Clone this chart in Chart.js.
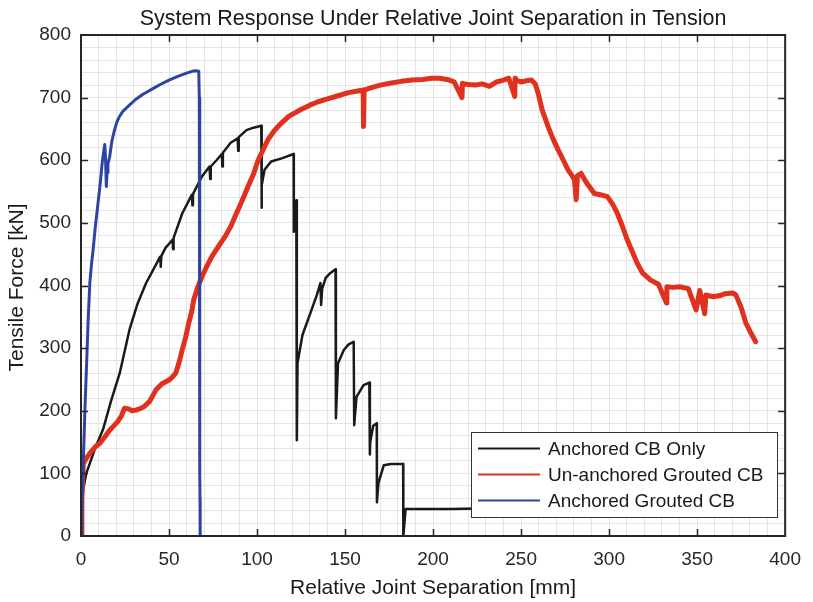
<!DOCTYPE html>
<html>
<head>
<meta charset="utf-8">
<script src="https://cdn.jsdelivr.net/npm/chart.js@4/dist/chart.umd.min.js"></script>
<style>
  html,body{margin:0;padding:0;background:#fff;}
  #wrap{width:813px;height:602px;position:relative;}
</style>
</head>
<body>
<div id="wrap"><canvas id="c" width="813" height="602"></canvas></div>
<script>
// Anchored CB Only
const blackX = [0,0.3,3,8,12.5,17,22,27.5,32,37,41,45,45.3,45.6,48,52,52.3,52.6,57.5,63,63.3,63.6,68.7,73,73.4,73.7,77,80,80.3,80.6,85,89,89.3,89.6,94,98,102.4,102.5,102.8,104.3,108,114,120.8,120.9,121.5,122.3,122.5,122.7,123,125.8,130.3,134,136,136.4,137,139,141.7,144.6,144.8,146,149.3,152,154.9,155.2,156.5,160.5,163.8,164.1,164.3,166,168,168.1,169,172,176,183,183.1,184.4,195,210,225,240];
const blackY = [0,60,100,140,170,215,260,329,370,404,425,446,430,447,460,473,458,476,515,545,528,546,574,590,570,590,600,610,590,612,628,635,615,637,648,652,655,524,560,585,598,603,610,486,500,536,500,153,276,321,356,385,404,369,395,412,420,426,188,276,297,306,310,177,222,241,245,130,150,176,180,54,85,113,115,115,0,43,43,43,44,45];

// Un-anchored Grouted CB
const redX = [0,0.5,1.3,3,5,8,10.7,13.5,16.3,19,21,23,24.7,27,29,31.3,34,36,39,42.5,46,50,52,53.8,55.5,57.5,59.5,61.2,63,64,66,68.7,71,74.3,78,81.8,85,87.5,91,94.9,98,100.6,103,106.2,110,113.7,118,124.9,130,134.3,140,146,152,158,160.3,160.5,160.8,165,170,175.5,182,188,194.2,199,203.6,208,212,216.4,216.7,217,220,224,227.9,232,236,240,243,246.4,246.6,246.8,250,253,256,258,259.7,262,265.3,268,271,274,276.6,279,280.3,281.3,282,284.1,287,291.6,295,299,302,304.7,307.5,310.3,313,315.9,319,323.4,328,332.6,332.8,336,340.2,345,349.4,351.5,354.3,355,359,363,366,370.2,372,375,377.7,380,383.3];
const redY = [0,60,116,124,132,142,148,158,169,177,183,192,204,203,200,201,204,207,215,233,243,249,254,260,275,297,318,340,360,377,395,414,428,446,462,478,494,510,532,558,578,600,614,633,648,659,670,681,688,693,698,703,708,711,712,654,712,716,720,723,726,728,729,731,731,729,725,700,723,722,721,720,722,718,725,728,731,702,731,728,725,727,728,722,707,680,654,635,617,600,585,575,569,537,575,579,565,547,545,542,530,515,495,473,455,436,420,409,402,372,398,397,398,395,361,392,355,385,382,384,387,388,385,365,340,327,310];

// Anchored Grouted CB
const blueX = [0,0.4,1.3,2.2,3.2,4,5,6,7,8,8.8,10,11,12,12.8,13.5,13.9,14.4,14.8,15.3,16.3,17.5,19.1,20.5,21.9,24,27.5,31,35,40.6,45,50,55,60,63.1,65,66.9,67.2,67.4,67.5,67.6,67.7];
const blueY = [0,40,116,200,276,340,404,435,460,490,510,540,565,595,612,625,605,558,580,594,606,630,649,662,670,679,688,697,705,714,721,728,734,739,742,743,742,700,300,100,60,0];

const seriesNames = ['Anchored CB Only','Un-anchored Grouted CB','Anchored Grouted CB'];
const seriesColors = ['#1a1a1a','#e0301e','#2f44a2'];

const titleText = 'System Response Under Relative Joint Separation in Tension';
const xTitle = 'Relative Joint Separation [mm]';
const yTitle = 'Tensile Force [kN]';

const FONT = '"Liberation Sans", Arial, sans-serif';
const ink = '#262626';

function pts(xs, ys){ return xs.map((x,i)=>({x, y: ys[i]})); }

const framePlugin = {
  id: 'frame',
  afterDraw(chart){
    const {ctx, chartArea:a, scales:{x, y}} = chart;
    ctx.save();
    // inner ticks on all four sides
    ctx.strokeStyle = ink; ctx.lineWidth = 1.5;
    ctx.beginPath();
    for (let v = 50; v < 400; v += 50){
      const px = Math.round(x.getPixelForValue(v)) + 0.5;
      ctx.moveTo(px, a.bottom); ctx.lineTo(px, a.bottom - 7);
      ctx.moveTo(px, a.top); ctx.lineTo(px, a.top + 7);
    }
    for (let v = 100; v < 800; v += 100){
      const py = Math.round(y.getPixelForValue(v)) + 0.5;
      ctx.moveTo(a.left, py); ctx.lineTo(a.left + 7, py);
      ctx.moveTo(a.right, py); ctx.lineTo(a.right - 7, py);
    }
    ctx.stroke();
    // box
    ctx.lineWidth = 2;
    ctx.strokeRect(a.left, a.top, a.right - a.left, a.bottom - a.top);

    // titles
    ctx.fillStyle = '#1a1a1a';
    ctx.textAlign = 'center'; ctx.textBaseline = 'middle';
    ctx.font = '21.5px ' + FONT;
    ctx.fillText(titleText, (a.left + a.right)/2, 19);
    ctx.font = '21px ' + FONT;
    ctx.fillText(xTitle, (a.left + a.right)/2, 588);
    ctx.save();
    ctx.translate(17, (a.top + a.bottom)/2 + 2);
    ctx.rotate(-Math.PI/2);
    ctx.fillText(yTitle, 0, 0);
    ctx.restore();

    // legend
    const lx = 471, ly = 432, lw = 306, lh = 85;
    ctx.fillStyle = '#fff';
    ctx.fillRect(lx, ly, lw, lh);
    ctx.strokeStyle = '#333'; ctx.lineWidth = 1;
    ctx.strokeRect(lx + 0.5, ly + 0.5, lw, lh);
    ctx.font = '19px ' + FONT;
    ctx.textAlign = 'left';
    seriesNames.forEach((name, i) => {
      const ry = 448.5 + i * 26;
      ctx.strokeStyle = seriesColors[i]; ctx.lineWidth = 2;
      ctx.beginPath(); ctx.moveTo(478, ry); ctx.lineTo(540, ry); ctx.stroke();
      ctx.fillStyle = '#1a1a1a';
      ctx.fillText(name, 548, ry + 1);
    });
    ctx.restore();
  }
};

new Chart(document.getElementById('c'), {
  type: 'line',
  data: {
    datasets: [
      {label: seriesNames[0], data: pts(blackX, blackY), borderColor: seriesColors[0], borderWidth: 2.5, order: 3},
      {label: seriesNames[1], data: pts(redX, redY), borderColor: seriesColors[1], borderWidth: 5, order: 2},
      {label: seriesNames[2], data: pts(blueX, blueY), borderColor: seriesColors[2], borderWidth: 3, order: 1}
    ]
  },
  options: {
    responsive: false,
    animation: false,
    elements: {point: {radius: 0}, line: {tension: 0, borderJoinStyle: 'round', borderCapStyle: 'round'}},
    layout: {padding: {top: 35, right: 20, left: 0, bottom: 0}},
    plugins: {legend: {display: false}, title: {display: false}, tooltip: {enabled: false}},
    scales: {
      x: {
        type: 'linear', min: 0, max: 400,
        afterFit: s => { s.height = 66; },
        border: {display: false},
        grid: {color: '#e4e4e4', lineWidth: 1, drawTicks: false},
        ticks: {stepSize: 10, autoSkip: false, maxRotation: 0, padding: 12, color: ink,
          font: {family: FONT, size: 19},
          callback: v => v % 50 === 0 ? v : ''}
      },
      y: {
        min: 0, max: 800,
        afterFit: s => { s.width = 81; },
        border: {display: false},
        grid: {color: '#e4e4e4', lineWidth: 1, drawTicks: false},
        ticks: {stepSize: 20, autoSkip: false, padding: 10, color: ink,
          font: {family: FONT, size: 19},
          callback: v => v % 100 === 0 ? v : ''}
      }
    }
  },
  plugins: [framePlugin]
});
</script>
</body>
</html>
